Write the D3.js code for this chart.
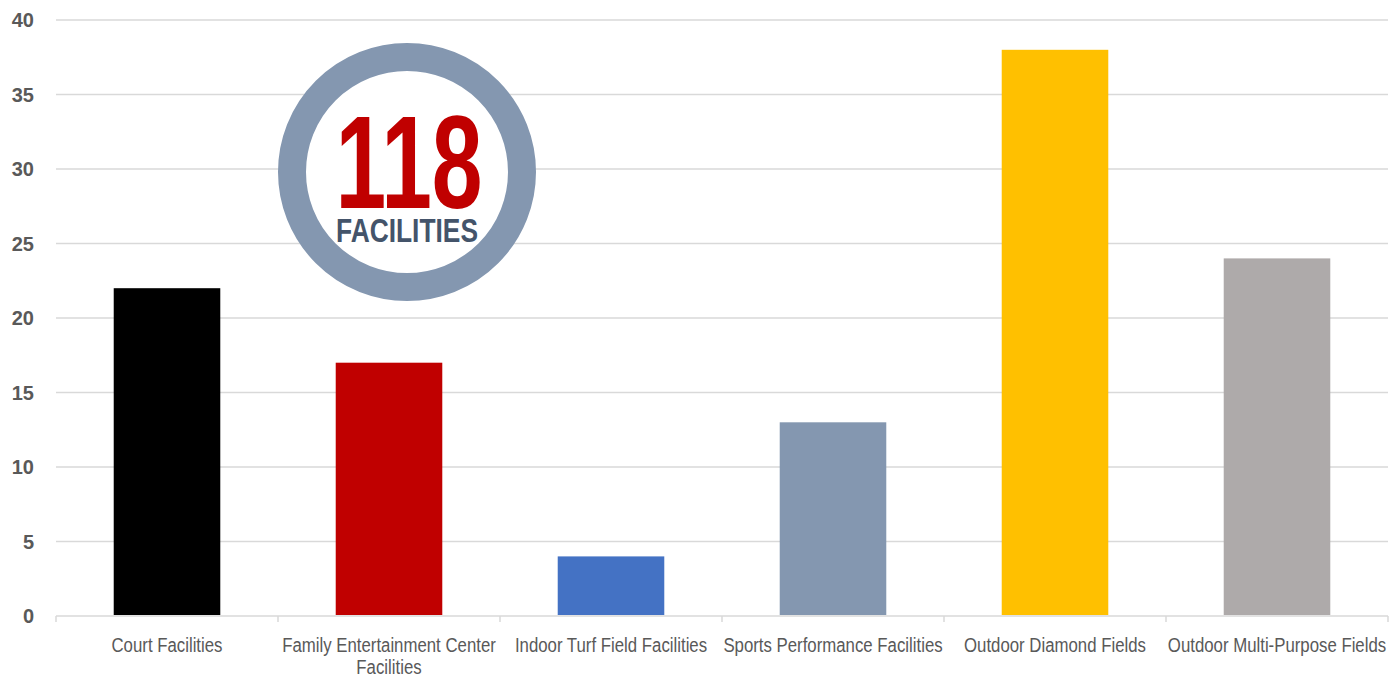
<!DOCTYPE html>
<html><head><meta charset="utf-8">
<script src="https://cdn.jsdelivr.net/npm/d3@7"></script>
<style>body{margin:0;background:#fff;} svg{display:block;}</style>
</head><body>
<svg id="chart" width="1398" height="677"></svg>
<script>
const categories = ["Court Facilities", "Family Entertainment Center Facilities", "Indoor Turf Field Facilities", "Sports Performance Facilities", "Outdoor Diamond Fields", "Outdoor Multi-Purpose Fields"];
const labelLines = [["Court Facilities"], ["Family Entertainment Center", "Facilities"], ["Indoor Turf Field Facilities"], ["Sports Performance Facilities"], ["Outdoor Diamond Fields"], ["Outdoor Multi-Purpose Fields"]];
const values = [22, 17, 4, 13, 38, 24];
const colors = ["#000000", "#C00000", "#4472C4", "#8497B0", "#FFC000", "#AEAAAA"];
const yTicks = [0, 5, 10, 15, 20, 25, 30, 35, 40];
const totalLabel = "118";
const totalSub = "FACILITIES";

const svg = d3.select("#chart");
const m = {left: 56, right: 10, top: 20, bottom: 61};
const W = 1398, H = 677;
const x = d3.scaleBand().domain(categories).range([m.left, W - m.right]).paddingInner(0.52).paddingOuter(0.26);
const y = d3.scaleLinear().domain([0, 40]).range([H - m.bottom, m.top]);

// grid
svg.append("g").selectAll("line").data(yTicks.filter(d => d > 0)).join("line")
  .attr("x1", m.left).attr("x2", W - m.right)
  .attr("y1", d => y(d)).attr("y2", d => y(d))
  .attr("stroke", "#d9d9d9").attr("stroke-width", 1.5);

// y labels
svg.append("g").selectAll("text").data(yTicks).join("text")
  .attr("x", 34).attr("y", d => y(d)).attr("dy", "0.36em")
  .attr("text-anchor", "end")
  .attr("font-family", "Liberation Sans, Arial, sans-serif")
  .attr("font-weight", "bold").attr("font-size", 20).attr("fill", "#595959")
  .text(d => d);

// bars
svg.append("g").selectAll("rect").data(values).join("rect")
  .attr("x", (d, i) => x(categories[i]))
  .attr("y", d => y(d))
  .attr("width", x.bandwidth())
  .attr("height", d => y(0) - y(d) - 1)
  .attr("fill", (d, i) => colors[i]);

// x axis
const bounds = d3.range(categories.length + 1).map(i => m.left + i * (W - m.left - m.right) / categories.length);
svg.append("line").attr("x1", m.left).attr("x2", W - m.right).attr("y1", y(0)).attr("y2", y(0))
  .attr("stroke", "#d9d9d9").attr("stroke-width", 1.5);
svg.append("g").selectAll("line").data(bounds).join("line")
  .attr("x1", d => d).attr("x2", d => d).attr("y1", y(0)).attr("y2", y(0) + 6)
  .attr("stroke", "#d9d9d9").attr("stroke-width", 1.5);

const condense = 0.8;
const xl = svg.append("g");
categories.forEach((c, i) => {
  labelLines[i].forEach((t, j) => {
    xl.append("text")
      .attr("transform", `translate(${x(c) + x.bandwidth() / 2},${y(0) + 36 + j * 22}) scale(${condense},1)`)
      .attr("text-anchor", "middle")
      .attr("font-family", "Liberation Sans, Arial, sans-serif")
      .attr("font-size", 21).attr("fill", "#595959")
      .text(t);
  });
});

// circle badge
const cx = 407, cy = 172;
svg.append("circle").attr("cx", cx).attr("cy", cy).attr("r", 115)
  .attr("fill", "#fff").attr("stroke", "#8497B0").attr("stroke-width", 28);
svg.append("text").attr("x", cx + 2).attr("y", 208)
  .attr("text-anchor", "middle")
  .attr("font-family", "Liberation Sans, Arial, sans-serif")
  .attr("font-weight", "bold").attr("font-size", 132).attr("fill", "#C00000")
  .attr("textLength", 147).attr("lengthAdjust", "spacingAndGlyphs")
  .text(totalLabel);
svg.append("text").attr("x", cx).attr("y", 242)
  .attr("text-anchor", "middle")
  .attr("font-family", "Liberation Sans, Arial, sans-serif")
  .attr("font-weight", "bold").attr("font-size", 33).attr("fill", "#44546A")
  .attr("textLength", 142).attr("lengthAdjust", "spacingAndGlyphs")
  .text(totalSub);
</script>
</body></html>
